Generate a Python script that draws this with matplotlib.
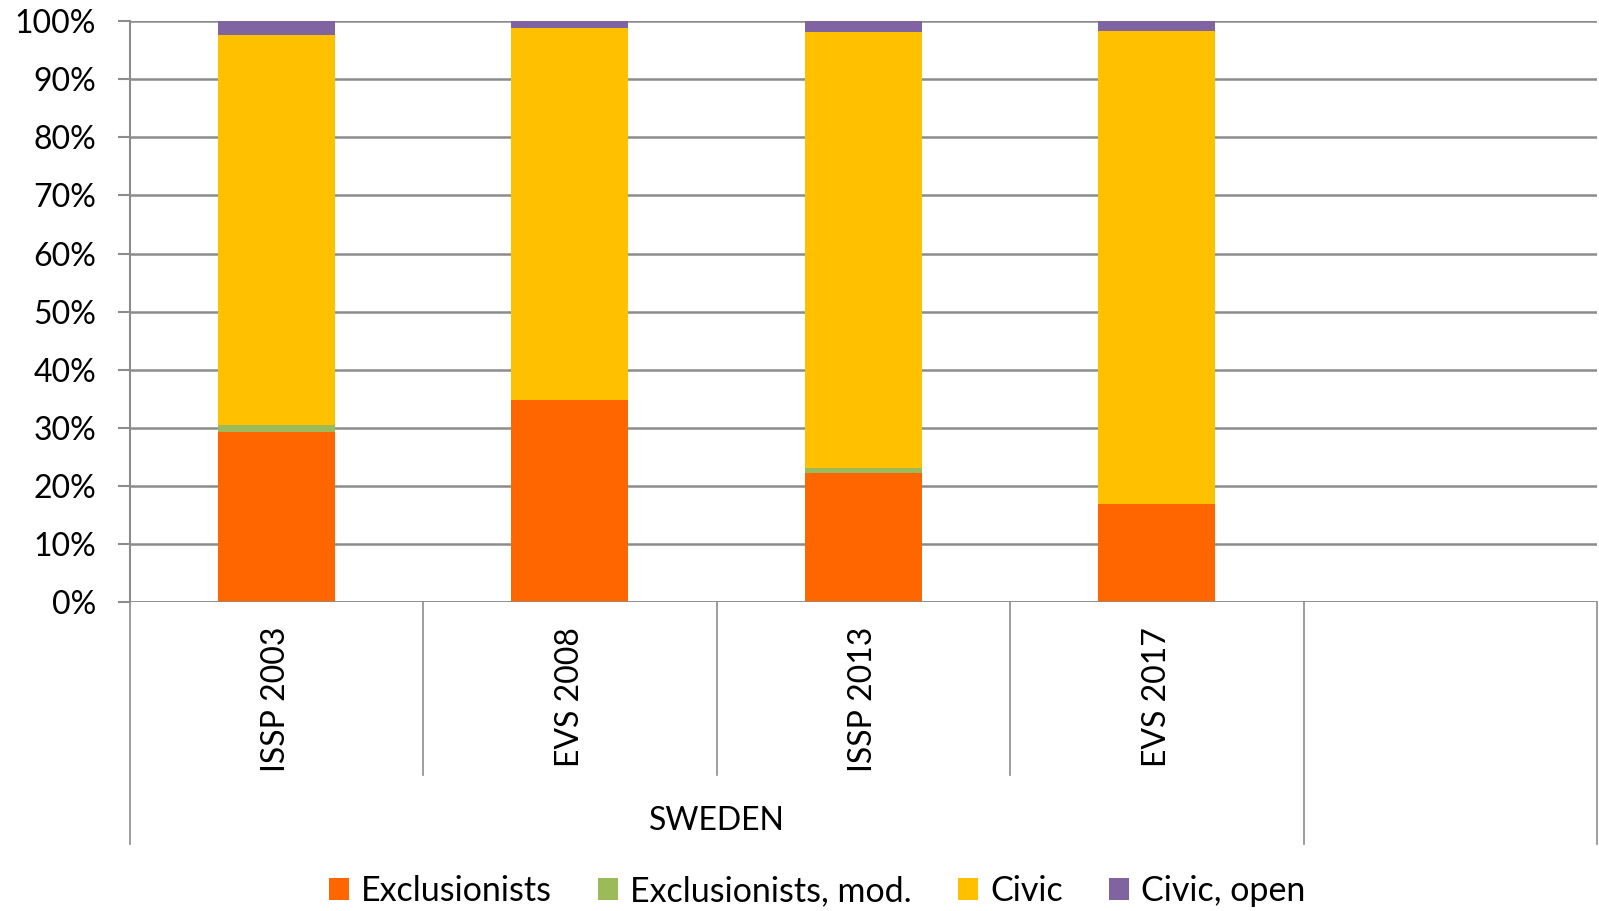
import matplotlib
matplotlib.use("Agg")
import matplotlib.pyplot as plt
import matplotlib.transforms as mtransforms
from matplotlib.patches import Patch
import numpy as np

plt.rcParams['font.family'] = ['Lato', 'DejaVu Sans']

categories = ["ISSP 2003", "EVS 2008", "ISSP 2013", "EVS 2017", ""]
group_label = "SWEDEN"
series_names = ["Exclusionists", "Exclusionists, mod.", "Civic", "Civic, open"]
exclusionists = [29.2, 34.8, 22.2, 16.9]
exclusionists_mod = [1.3, 0.0, 0.9, 0.0]
civic = [67.1, 64.0, 75.1, 81.5]
civic_open = [2.4, 1.2, 1.8, 1.6]
colors = ["#FF6600", "#9BBB59", "#FFC000", "#8064A2"]
yticks = [0, 10, 20, 30, 40, 50, 60, 70, 80, 90, 100]

W, H = 1599, 911
fig = plt.figure(figsize=(W / 100, H / 100), dpi=100)
left, right = 129.5 / W, 1597 / W
bottom, top = 1 - 601.7 / H, 1 - 21.4 / H
ax = fig.add_axes([left, bottom, right - left, top - bottom])

grid_c = "#8C8C8C"
n_slots = len(categories)
x = np.arange(len(exclusionists))
series = [exclusionists, exclusionists_mod, civic, civic_open]
base = np.zeros(len(x))
for vals, c, name in zip(series, colors, series_names):
    v = np.array(vals, dtype=float)
    ax.bar(x, v, bottom=base, width=0.4, color=c, label=name, zorder=3, linewidth=0)
    base += v

ax.set_xlim(-0.5, n_slots - 0.5)
ax.set_ylim(0, 100)
ax.set_yticks(yticks)
ax.set_yticklabels([f"{t}%" for t in yticks], fontsize=23)
ax.yaxis.grid(True, color=grid_c, linewidth=1.8, zorder=0)
ax.set_xticks([])
for s in ["top", "right", "bottom"]:
    ax.spines[s].set_visible(False)
ax.spines["left"].set_color(grid_c)
ax.spines["left"].set_linewidth(1.5)
ax.tick_params(axis="y", length=9, color=grid_c, width=1.5, pad=15)
ax.axhline(0, color=grid_c, linewidth=1.8, zorder=4)

trans = mtransforms.blended_transform_factory(ax.transData, ax.transAxes)
short_y = (601.7 - 775) / 580.3
long_y = (601.7 - 844) / 580.3
n_grp = len(categories) - 1
for k in range(n_slots + 1):
    xb = k - 0.5
    y1 = long_y if k in (0, n_grp, n_slots) else short_y
    ax.plot([xb, xb], [0, y1], transform=trans, color=grid_c, linewidth=1.2, clip_on=False)

label_top = (601.7 - 627) / 580.3
for i, cat in enumerate(categories):
    if cat:
        ax.text(i, label_top, cat, transform=trans, rotation=90, ha="center", va="top",
                fontsize=23)
ax.text((n_grp - 1) / 2, (601.7 - 821) / 580.3, group_label, transform=trans,
        ha="center", va="center", fontsize=23)

handles = [Patch(facecolor=c, label=n) for c, n in zip(colors, series_names)]
fig.legend(handles=handles, loc="center", bbox_to_anchor=(0.511, 1 - 891 / H), ncol=4,
           frameon=False, fontsize=24.5, handlelength=0.6, handleheight=0.6,
           handletextpad=0.35, columnspacing=1.35)

fig.savefig("out.png", dpi=100)
